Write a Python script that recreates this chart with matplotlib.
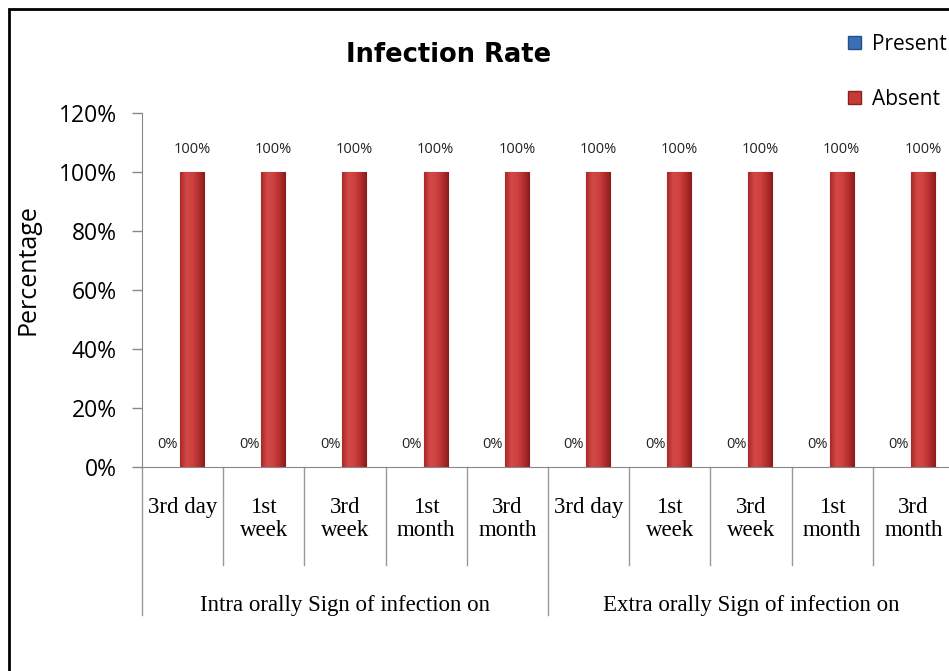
import numpy as np
import matplotlib.pyplot as plt
from matplotlib.patches import Rectangle, Patch
from matplotlib.colors import LinearSegmentedColormap
from matplotlib.transforms import blended_transform_factory

# Data
categories = ["3rd day", "1st\nweek", "3rd\nweek", "1st\nmonth", "3rd\nmonth",
              "3rd day", "1st\nweek", "3rd\nweek", "1st\nmonth", "3rd\nmonth"]
groups = ["Intra orally Sign of infection on", "Extra orally Sign of infection on"]
group_size = 5
present = [0, 0, 0, 0, 0, 0, 0, 0, 0, 0]
absent = [100, 100, 100, 100, 100, 100, 100, 100, 100, 100]

sans = ["Open Sans", "DejaVu Sans"]
serif = ["Liberation Serif", "DejaVu Serif"]

fig = plt.figure(figsize=(9.49, 6.71), dpi=100)
W, H = 949, 671

# outer frame (right and bottom edges run off the picture)
fig.patches.append(Rectangle((9 / W, -0.1), 1.2, 1 - 9 / H + 0.1, transform=fig.transFigure,
                             fill=False, edgecolor="black", linewidth=2))

ax = fig.add_axes([142 / W, 1 - 467 / H, 812 / W, 354 / H])

x = np.arange(len(categories))
bw = 0.296
shift = -0.032
b1 = ax.bar(x - bw / 2 + shift, present, bw, color="#3A6FB6", linewidth=0, label="Present")
b2 = ax.bar(x + bw / 2 + shift, absent, bw, color="#C73A3A", edgecolor="#8E1F1F",
            linewidth=0.8, label="Absent")

# horizontal shading to imitate the rounded bars
red_shade = LinearSegmentedColormap.from_list(
    "redshade", ["#A82828", "#D44848", "#CF4141", "#B32E2E", "#8A1C1C"])
grad = np.linspace(0, 1, 64).reshape(1, -1)
for bar in b2:
    bx, by = bar.get_x(), bar.get_y()
    im = ax.imshow(grad, extent=[bx, bx + bar.get_width(), by, by + bar.get_height()],
                   aspect="auto", cmap=red_shade, zorder=2.5)
    im.set_clip_path(bar)

for bars in (b1, b2):
    for bar in bars:
        v = bar.get_height()
        ax.annotate(f"{v:.0f}%", (bar.get_x() + bar.get_width() / 2, v),
                    xytext=(0, 16), textcoords="offset points", ha="center", va="center",
                    fontsize=10.5, family=sans, color="#222222")

ax.set_xlim(-0.5, len(categories) - 0.5)
ax.set_ylim(0, 120)
ax.set_yticks(np.arange(0, 121, 20))
ax.set_yticklabels([f"{t}%" for t in range(0, 121, 20)], fontsize=16.5, family=sans)
ax.tick_params(axis="y", length=7, width=1, color="#888888", pad=11)
ax.set_xticks([])
for s in ("top", "right"):
    ax.spines[s].set_visible(False)
ax.spines["left"].set_color("#888888")
ax.spines["bottom"].set_color("#888888")
ax.set_ylabel("Percentage", fontsize=18, family=sans)
ax.yaxis.set_label_coords(-0.1256, (467 - 270) / 354)

# multi-level category axis
trans = blended_transform_factory(ax.transData, ax.transAxes)
short_y = (467 - 565) / 354
long_y = (467 - 615) / 354
for i in range(len(categories) + 1):
    xs = i - 0.5
    low = long_y if i % group_size == 0 else short_y
    ax.plot([xs, xs], [0, low], color="#999999", linewidth=1, transform=trans, clip_on=False)
for i, lab in enumerate(categories):
    ax.text(i, -30 / 354, lab, transform=trans, ha="center", va="top",
            fontsize=16.5, family=serif, linespacing=1.15)
for g, lab in enumerate(groups):
    gx = g * group_size + (group_size - 1) / 2
    ax.text(gx, (467 - 605) / 354, lab, transform=trans, ha="center", va="center",
            fontsize=16.5, family=serif)

fig.text(449 / W, 1 - 55 / H, "Infection Rate", ha="center", va="center",
         fontsize=18.5, fontweight="bold", family=["DejaVu Sans"])

handles = [Patch(facecolor="#3A6FB6", edgecolor="#24508A"),
           Patch(facecolor="#C73A3A", edgecolor="#8E1F1F")]
fig.legend(handles, ["Present", "Absent"], loc="upper left",
           bbox_to_anchor=(848 / W, 1 - 34 / H), frameon=False,
           prop={"family": sans, "size": 15}, handlelength=0.6, handleheight=0.6,
           handletextpad=0.55, labelspacing=1.64, borderaxespad=0, borderpad=0)

fig.savefig("out.png", dpi=100)
